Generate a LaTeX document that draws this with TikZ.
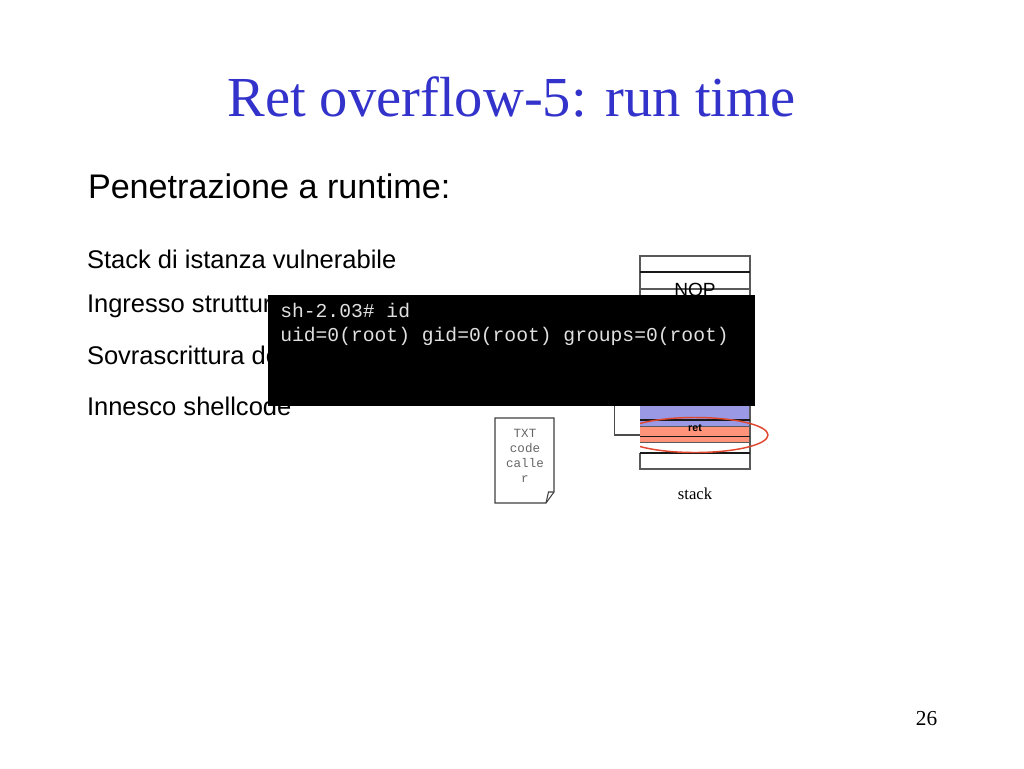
\documentclass[tikz,border=0pt]{standalone}
\usepackage{fontspec}
\setmainfont{Liberation Serif}
\newfontfamily\sansf{Liberation Sans}
\newfontfamily\monof{Liberation Mono}
\tikzset{
  px/.style={x=0.75pt,y=-0.75pt},
  txt/.style={inner sep=0pt,outer sep=0pt,anchor=base west,font=\sansf\fontsize{19.15pt}{22pt}\selectfont,text=black},
  cell/.style={draw=black!65,line width=0.8pt},
  cellk/.style={draw=black!90,line width=0.8pt},
  term/.style={inner sep=0pt,anchor=base west,text=black!12,font=\monof\fontsize{14.75pt}{18pt}\selectfont},
  doc/.style={inner sep=0pt,text=black!60,font=\monof\fontsize{9.4pt}{11.3pt}\selectfont,align=center,text width=44pt},
}
\definecolor{titleblue}{RGB}{51,51,204}
\definecolor{stackblue}{RGB}{153,153,230}
\definecolor{stackorange}{RGB}{255,148,122}
\definecolor{ringred}{RGB}{224,72,48}
\begin{document}
\begin{tikzpicture}[px]
\useasboundingbox (0,0) rectangle (1024,768);
\fill[white] (0,0) rectangle (1024,768);
\node[inner sep=0pt,text=titleblue,font=\fontsize{42.4pt}{46pt}\selectfont,anchor=base] (title) at (511.5,116.5) {Ret overflow-5: run time};
\node[txt,font=\sansf\fontsize{25.6pt}{29pt}\selectfont] (head) at (88,198.5) {Penetrazione a runtime:};
\node[txt] (l1) at (87,268) {Stack di istanza vulnerabile};
\node[txt] (l2) at (87,312) {Ingresso struttura};
\node[txt] (l3) at (87,364) {Sovrascrittura del};
\node[txt] (l4) at (87,415) {Innesco shellcode};
% stack
\fill[stackblue] (640,400) rectangle (750,426);
\fill[stackorange] (640,426) rectangle (750,443);
\draw[cell] (640,406) -- (640,256) -- (750,256) -- (750,469) -- (640,469) -- (640,453);
\draw[cellk] (640,272) -- (750,272);
\draw[cell] (640,289) -- (750,289);
\draw[cellk] (640,420) -- (750,420);
\draw[cell] (640,426.5) -- (750,426.5);
\draw[cellk] (640,436.5) -- (750,436.5);
\draw[cell] (640,442.5) -- (750,442.5);
\draw[cellk] (640,453) -- (750,453);
\node[inner sep=0pt,font=\sansf\fontsize{14.3pt}{16pt}\selectfont] (nop) at (695,290) {NOP};
\node[inner sep=0pt,font=\sansf\bfseries\fontsize{8pt}{10pt}\selectfont] (ret) at (695,428) {ret};
\node[inner sep=0pt,font=\fontsize{12.5pt}{14pt}\selectfont] (stack) at (695,494) {stack};
\begin{scope}
\clip (640,400) rectangle (790,470);
\draw[draw=ringred,line width=1.1pt] (695,435) ellipse [x radius=73,y radius=17.5];
\end{scope}
% connector
\coordinate (e1) at (614.5,400);
\coordinate (e2) at (640,435);
\draw[black!70,line width=1.2pt] (e1) |- (e2);
% document
\draw[black!75,line width=0.8pt,fill=white] (495,418) -- (554,418) -- (554,492) -- (546,503) -- (495,503) -- cycle;
\draw[black!75,line width=0.8pt] (546,503) -- (548.5,492) -- (554,492);
\node[doc] (code) at (525,455.5) {TXT\\code\\calle\\r};
% terminal
\fill[black] (268,295) rectangle (755,406);
\node[term] (t1) at (280,317) {sh-2.03\# id};
\node[term] (t2) at (280,341) {uid=0(root) gid=0(root) groups=0(root)};
\node[inner sep=0pt,font=\fontsize{16pt}{18pt}\selectfont,anchor=base] (page) at (926.5,725) {26};
\end{tikzpicture}
\end{document}
